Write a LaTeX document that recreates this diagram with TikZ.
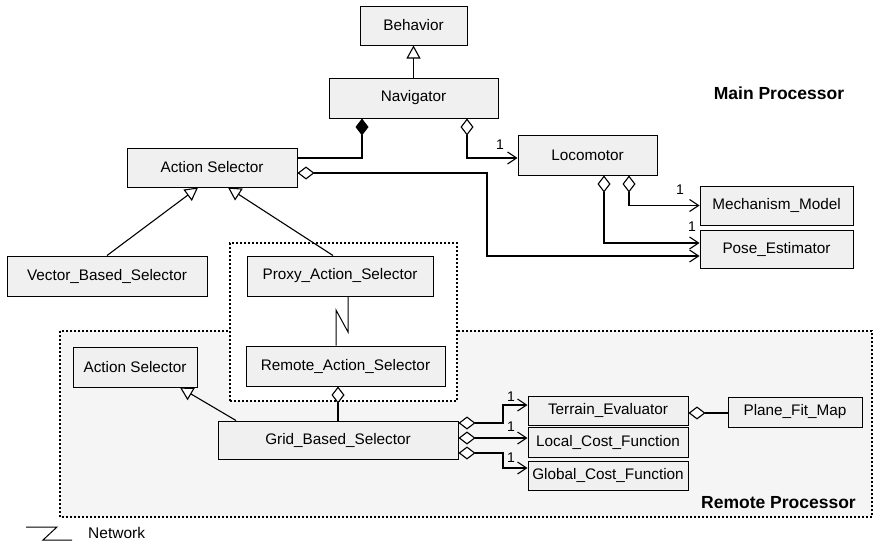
\documentclass[tikz,border=0pt]{standalone}
\usepackage{fontspec}
\setmainfont{Liberation Sans}
\usetikzlibrary{arrows.meta,calc}
\begin{document}
\begin{tikzpicture}[x=1pt,y=-1pt,
  box/.style={draw=black,line width=1pt,fill=gray!12,inner sep=0pt,font=\fontsize{15.3}{18}\selectfont},
  conn/.style={line width=1.1pt},
  gen/.style={conn,-{Triangle[open,length=13pt,width=14pt,fill=white]}},
  odiam/.style={conn,{Diamond[open,length=17pt,width=13pt,fill=white]}-},
  fdiam/.style={conn,{Diamond[length=17pt,width=13pt]}-},
  odnav/.style={conn,{Diamond[open,length=17pt,width=13pt,fill=white]}-{Straight Barb[length=9pt,width=12pt,line width=1.1pt]}},
  mult/.style={font=\fontsize{14}{16}\selectfont,inner sep=0pt},
  region/.style={line width=1.8pt,dash pattern=on 1.8pt off 2.2pt},
  title/.style={font=\fontsize{17.5}{20}\selectfont\bfseries,inner sep=0pt}
]
\useasboundingbox (0,0) rectangle (873,546);
% containers
\path[region,draw=black,fill=gray!8] (60,331) rectangle (872,517);
\node[region,draw=black,fill=white,inner sep=0pt,minimum width=227pt,minimum height=158pt] (inner) at (343.5,322) {};
% boxes
\node[box,minimum width=107pt,minimum height=39pt] (beh) at (413.5,25.5) {Behavior};
\node[box,minimum width=169pt,minimum height=40pt] (nav) at (413.5,98) {Navigator};
\node[box,minimum width=170pt,minimum height=39pt] (as1) at (212,167.5) {Action Selector};
\node[box,minimum width=139pt,minimum height=40pt] (loco) at (587.5,155) {Locomotor};
\node[box,minimum width=153pt,minimum height=39pt] (mech) at (776.5,205.5) {Mechanism\_Model};
\node[box,minimum width=153pt,minimum height=38pt] (pose) at (776.5,249) {Pose\_Estimator};
\node[box,minimum width=200pt,minimum height=40pt] (vbs) at (107,276) {Vector\_Based\_Selector};
\node[box,minimum width=186pt,minimum height=40pt] (proxy) at (340,276) {Proxy\_Action\_Selector};
\node[box,minimum width=199pt,minimum height=40pt] (remote) at (345.5,366) {Remote\_Action\_Selector};
\node[box,minimum width=124pt,minimum height=40pt] (as2) at (135,367) {Action Selector};
\node[box,minimum width=240pt,minimum height=38pt] (grid) at (338,440) {Grid\_Based\_Selector};
\node[box,minimum width=160pt,minimum height=29pt] (terr) at (608,410.5) {Terrain\_Evaluator};
\node[box,minimum width=160pt,minimum height=30pt] (local) at (608,442) {Local\_Cost\_Function};
\node[box,minimum width=160pt,minimum height=29pt] (glob) at (608,475.5) {Global\_Cost\_Function};
\node[box,minimum width=134pt,minimum height=30pt] (plane) at (795,412) {Plane\_Fit\_Map};
% titles
\node[title] (mainp) at (779,93) {Main Processor};
\node[title,anchor=east] (remp) at (856,503) {Remote Processor};
% generalizations
\draw[gen] (nav.north) -- (beh.south);
\draw[gen] (vbs.north) -- ([xshift=-14pt]as1.south);
\draw[gen] ([xshift=-7pt]proxy.north) -- ([xshift=16pt]as1.south);
\draw[gen] ([xshift=-102pt]grid.north) -- ([xshift=45pt]as2.south);
% composition / aggregation
\draw[fdiam] ([xshift=-51.5pt]nav.south) |- ([yshift=9.5pt]as1.east);
\draw[odnav] ([xshift=53.5pt]nav.south) |- ([yshift=-3pt]loco.west);
\draw[odnav] ([yshift=-5.5pt]as1.east) -- (487,173) |- ([yshift=-7pt]pose.west);
\draw[odnav] ([xshift=41.5pt]loco.south) |- (mech.west);
\draw[odnav] ([xshift=16.5pt]loco.south) |- ([yshift=6pt]pose.west);
\draw[odiam] ([xshift=-7.5pt]remote.south) -- (grid.north);
\draw[odnav] ([yshift=17pt]grid.east) -- (503,423) |- ([yshift=5.5pt]terr.west);
\draw[odnav] ([yshift=2pt]grid.east) -- ([yshift=2pt]grid.east -| local.west);
\draw[odnav] ([yshift=-13pt]grid.east) -- (503,453) |- ([yshift=7.5pt]glob.west);
\draw[odiam] ([yshift=-2.5pt]terr.east) -- ([yshift=-2.5pt]terr.east -| plane.west);
% network link
\draw[line width=1pt] ([xshift=8pt]proxy.south) -- (348,332) -- (336,310) -- ([xshift=-9.5pt]remote.north);
% multiplicities
\node[mult] (m1) at (500,145) {1};
\node[mult] (m2) at (680,190) {1};
\node[mult] (m3) at (692,227) {1};
\node[mult] (m4) at (511,397) {1};
\node[mult] (m5) at (511,427) {1};
\node[mult] (m6) at (511,458) {1};
% legend
\coordinate (z1) at (26,527);
\coordinate (z2) at (72,540);
\draw[line width=1pt] (z1) -- (57,527) -- (43,540) -- (z2);
\node[font=\fontsize{15.5}{18}\selectfont,anchor=west,inner sep=0pt] (netl) at (88,533) {Network};
\end{tikzpicture}
\end{document}
